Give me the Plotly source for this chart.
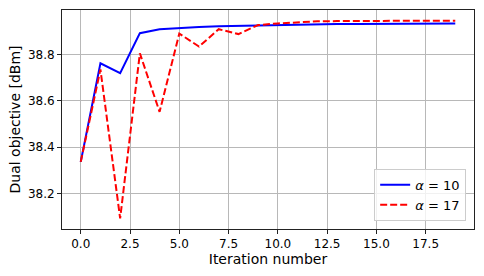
import plotly.graph_objects as go

iterations = list(range(20))
alpha10 = [38.337, 38.763, 38.720, 38.893, 38.910, 38.916, 38.920, 38.923, 38.925, 38.927,
           38.929, 38.930, 38.931, 38.932, 38.933, 38.933, 38.934, 38.934, 38.935, 38.935]
alpha17 = [38.337, 38.736, 38.093, 38.806, 38.553, 38.891, 38.835, 38.910, 38.889, 38.928,
           38.935, 38.940, 38.944, 38.945, 38.946, 38.946, 38.947, 38.947, 38.947, 38.947]
x_ticks = [0, 2.5, 5, 7.5, 10, 12.5, 15, 17.5]
x_tick_labels = ["0.0", "2.5", "5.0", "7.5", "10.0", "12.5", "15.0", "17.5"]
y_ticks = [38.2, 38.4, 38.6, 38.8]
y_tick_labels = ["38.2", "38.4", "38.6", "38.8"]

font = "DejaVu Sans"
fig = go.Figure()
fig.add_trace(go.Scatter(x=iterations, y=alpha10, mode="lines", name="<i>α</i> = 10",
                         line=dict(color="#0000ff", width=2)))
fig.add_trace(go.Scatter(x=iterations, y=alpha17, mode="lines", name="<i>α</i> = 17",
                         line=dict(color="#ff0000", width=2, dash="7px,3px")))

axis_common = dict(showline=True, linecolor="#222222", linewidth=1, mirror=True,
                   ticks="outside", ticklen=4, tickcolor="#222222", tickwidth=1,
                   showgrid=True, gridcolor="#b8b8b8", gridwidth=1, zeroline=False,
                   automargin=True,
                   tickfont=dict(family=font, size=12, color="black"))
fig.update_xaxes(range=[-0.95, 19.95], tickvals=x_ticks, ticktext=x_tick_labels,
                 title=dict(text="Iteration number", font=dict(family=font, size=14, color="black"), standoff=2),
                 **axis_common)
fig.update_yaxes(range=[38.047, 38.993], tickvals=y_ticks, ticktext=y_tick_labels,
                 title=dict(text="Dual objective [dBm]", font=dict(family=font, size=14, color="black"), standoff=3),
                 **axis_common)
fig.update_layout(
    width=484, height=276,
    margin=dict(l=62, r=10, t=10, b=47),
    plot_bgcolor="white", paper_bgcolor="white",
    font=dict(family=font, size=12, color="black"),
    legend=dict(x=0.981, y=0.037, xanchor="right", yanchor="bottom",
                bgcolor="rgba(255,255,255,0.8)", bordercolor="#cccccc", borderwidth=1,
                font=dict(family=font, size=13, color="black")),
)
fig.write_html("out.html", config={"displayModeBar": False},
               post_script="document.body.style.margin='0';document.body.style.padding='0';")
